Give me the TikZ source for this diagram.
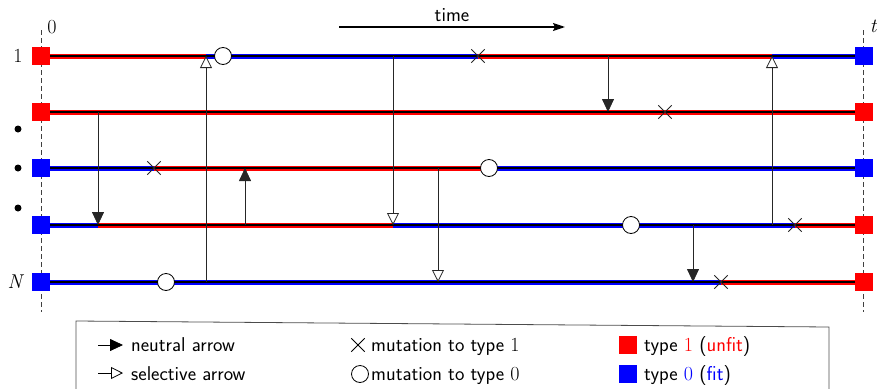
\documentclass[tikz,border=0pt]{standalone}
\usepackage{fontspec}
\usetikzlibrary{arrows.meta,shapes.misc}
\begin{document}
\begin{tikzpicture}[x=1pt,y=-1pt,font=\fontsize{20}{24}\selectfont,
  lane/.style={line width=5pt},
  core/.style={line width=1.8pt,black},
  neutral/.style={-{Triangle[length=13pt,width=12pt]},line width=0.8pt,black!85},
  selective/.style={-{Triangle[open,length=12pt,width=12pt,fill=white]},line width=0.8pt,black!85},
  mutcross/.style={cross out,draw=black!85,minimum size=12.5pt,inner sep=0pt,line width=0.9pt},
  mutcirc/.style={circle,draw=black,fill=white,minimum size=17pt,inner sep=0pt,line width=0.8pt},
  sqr/.style={minimum size=18pt,inner sep=0pt,draw=none},
  axisline/.style={dash pattern=on 4.5pt off 3.5pt,line width=0.8pt,black!75},
  lbl/.style={inner sep=0pt}]
\useasboundingbox (0,0) rectangle (877,388);

% axis lines and labels
\coordinate (z0) at (41,30);  \coordinate (z1) at (41,312);
\coordinate (t0) at (863,30); \coordinate (t1) at (863,312);
\draw[axisline] (z0) -- (z1);
\draw[axisline] (t0) -- (t1);
\node[lbl] (lab0) at (52,27) {\rmfamily 0};
\node[lbl] (labt) at (873,26) {\rmfamily\itshape t};
\node[lbl] (lab1) at (18,56) {\rmfamily 1};
\node[lbl] (labN) at (15,282) {\rmfamily\itshape N};
\fill (18,129) circle (3.5pt);
\fill (18,168) circle (3.5pt);
\fill (18,208) circle (3.5pt);

% time arrow
\node[lbl] (timelbl) at (452,15) {\sffamily time};
\coordinate (ta) at (339,27); \coordinate (tb) at (565,27);
\draw[-{Stealth[length=12pt,width=8pt,inset=2pt]},line width=1.5pt] (ta) -- (tb);

% coloured lanes
% line 1
\draw[lane,red]  (41,56) -- (206,56);
\draw[lane,blue] (206,56) -- (478,56);
\draw[lane,red]  (478,56) -- (772,56);
\draw[lane,blue] (772,56) -- (864,56);
% line 2
\draw[lane,red]  (41,112) -- (864,112);
% line 3
\draw[lane,blue] (41,168) -- (154,168);
\draw[lane,red]  (154,168) -- (489,168);
\draw[lane,blue] (489,168) -- (864,168);
% line 4
\draw[lane,blue] (41,225) -- (98,225);
\draw[lane,red]  (98,225) -- (393,225);
\draw[lane,blue] (393,225) -- (795,225);
\draw[lane,red]  (795,225) -- (864,225);
% line 5
\draw[lane,blue] (41,282) -- (721,282);
\draw[lane,red]  (721,282) -- (864,282);
% black cores
\foreach \yy in {56,112,168,225,282} \draw[core] (41,\yy) -- (864,\yy);

% arrows
\coordinate (a1s) at (98,112);  \coordinate (a1e) at (98,225);
\coordinate (a2s) at (206,282); \coordinate (a2e) at (206,56);
\coordinate (a3s) at (245,225); \coordinate (a3e) at (245,168);
\coordinate (a4s) at (393,56);  \coordinate (a4e) at (393,225);
\coordinate (a5s) at (438,168); \coordinate (a5e) at (438,282);
\coordinate (a6s) at (608,56);  \coordinate (a6e) at (608,112);
\coordinate (a7s) at (693,225); \coordinate (a7e) at (693,282);
\coordinate (a8s) at (772,225); \coordinate (a8e) at (772,56);
\draw[neutral]   (a1s) -- (a1e);
\draw[selective] (a2s) -- (a2e);
\draw[neutral]   (a3s) -- (a3e);
\draw[selective] (a4s) -- (a4e);
\draw[selective] (a5s) -- (a5e);
\draw[neutral]   (a6s) -- (a6e);
\draw[neutral]   (a7s) -- (a7e);
\draw[selective] (a8s) -- (a8e);

% mutations
\node[mutcirc]  (m1) at (223,56) {};
\node[mutcross] (m2) at (478,56) {};
\node[mutcross] (m3) at (665,112) {};
\node[mutcross] (m4) at (154,168) {};
\node[mutcirc]  (m5) at (489,168) {};
\node[mutcirc]  (m6) at (631,225) {};
\node[mutcross] (m7) at (795,225) {};
\node[mutcirc]  (m8) at (166,282) {};
\node[mutcross] (m9) at (721,282) {};

% squares
\node[sqr,fill=red]  (sl1) at (41,56) {};
\node[sqr,fill=red]  (sl2) at (41,112) {};
\node[sqr,fill=blue] (sl3) at (41,168) {};
\node[sqr,fill=blue] (sl4) at (41,225) {};
\node[sqr,fill=blue] (sl5) at (41,282) {};
\node[sqr,fill=blue] (sr1) at (864,56) {};
\node[sqr,fill=red]  (sr2) at (864,112) {};
\node[sqr,fill=blue] (sr3) at (864,168) {};
\node[sqr,fill=red]  (sr4) at (864,225) {};
\node[sqr,fill=red]  (sr5) at (864,282) {};

% legend
\draw[line width=0.8pt,black!70] (76,400) -- (76,321) -- (829,327) -- (829,400);
\coordinate (la1) at (98,345); \coordinate (lb1) at (123,345);
\coordinate (la2) at (98,373); \coordinate (lb2) at (123,373);
\draw[neutral,black]   (la1) -- (lb1);
\draw[selective,black] (la2) -- (lb2);
\node[anchor=base west,lbl] (tx1) at (131,351) {\sffamily neutral arrow};
\node[anchor=base west,lbl] (tx2) at (131,380) {\sffamily selective arrow};
\node[mutcross,black] (lgx) at (358,345) {};
\node[mutcirc] (lgo) at (360,374) {};
\node[anchor=base west,lbl] (tx3) at (371,351) {\sffamily mutation to type \rmfamily 1};
\node[anchor=base west,lbl] (tx4) at (371,380) {\sffamily mutation to type \rmfamily 0};
\node[sqr,fill=red]  (lgr) at (628,345) {};
\node[sqr,fill=blue] (lgb) at (628,374) {};
\node[anchor=base west,lbl] (tx5) at (644,351) {\sffamily type \textcolor{red}{\rmfamily 1} (\textcolor{red}{unfit})};
\node[anchor=base west,lbl] (tx6) at (644,380) {\sffamily type \textcolor{blue}{\rmfamily 0} (\textcolor{blue}{fit})};
\end{tikzpicture}
\end{document}
